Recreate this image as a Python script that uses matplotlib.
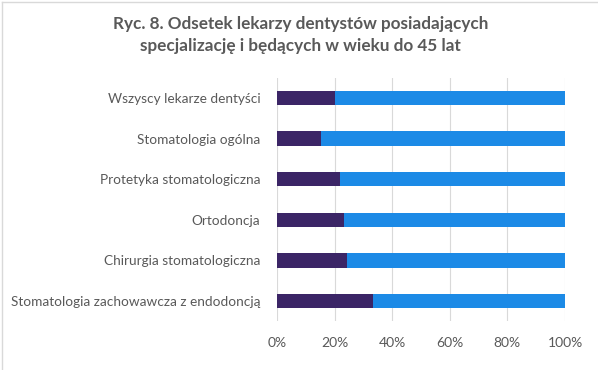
import matplotlib
matplotlib.use("Agg")
import matplotlib.pyplot as plt
from matplotlib.lines import Line2D

categories = [
    "Wszyscy lekarze dentyści",
    "Stomatologia ogólna",
    "Protetyka stomatologiczna",
    "Ortodoncja",
    "Chirurgia stomatologiczna",
    "Stomatologia zachowawcza z endodoncją",
]
share_young = [20.0, 15.3, 21.9, 23.3, 24.3, 33.3]
share_rest = [80.0, 84.7, 78.1, 76.7, 75.7, 66.7]
xticks = [0, 20, 40, 60, 80, 100]

DARK = "#3b2566"
BLUE = "#1c8ae6"
TXT = "#595959"

plt.rcParams["font.family"] = ["Lato", "DejaVu Sans"]

fig = plt.figure(figsize=(5.98, 3.70), dpi=100)
ax = fig.add_axes([277 / 598, 1 - 321.3 / 370, 288 / 598, (321.3 - 77.7) / 370])

y = list(range(len(categories)))
ax.barh(y, share_young, height=0.35, color=DARK, zorder=3)
ax.barh(y, share_rest, left=share_young, height=0.35, color=BLUE, zorder=3)

ax.set_xlim(0, 100)
ax.set_ylim(len(categories) - 0.5, -0.5)
ax.set_yticks(y)
ax.set_yticklabels(categories, fontsize=9.8, color=TXT)
ax.set_xticks(xticks)
ax.set_xticklabels([f"{v}%" for v in xticks], fontsize=10, color=TXT)
ax.tick_params(length=0, pad=12)
ax.tick_params(axis="x", pad=11)
ax.grid(axis="x", color="#d9d9d9", linewidth=0.8, zorder=0)
for s in ax.spines.values():
    s.set_visible(False)

fig.text(0.503, 1 - 35 / 370, "Ryc. 8. Odsetek lekarzy dentystów posiadających\n"
         "specjalizację i będących w wieku do 45 lat",
         ha="center", va="center", fontsize=12.3, fontweight="bold", color=TXT,
         linespacing=1.45)

# light frame on the top and left edge
fig.add_artist(Line2D([0.004, 0.004], [0, 0.995], transform=fig.transFigure, color="#d9d9d9", lw=1))
fig.add_artist(Line2D([0.004, 1], [0.995, 0.995], transform=fig.transFigure, color="#d9d9d9", lw=1))

fig.savefig("out.png", dpi=100)
